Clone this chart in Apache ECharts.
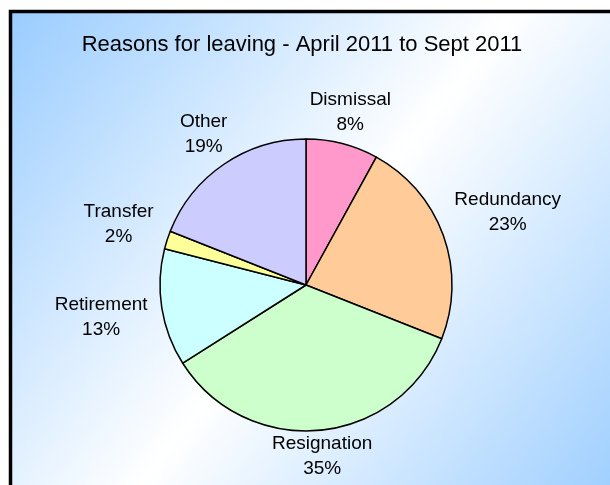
<!DOCTYPE html>
<html>
<head>
<meta charset="utf-8">
<script src="https://cdn.jsdelivr.net/npm/echarts@6/dist/echarts.min.js"></script>
<style>
    html, body { margin: 0; padding: 0; background: #fff; }
    #chart { width: 610px; height: 485px; }
</style>
</head>
<body>
<div id="chart"></div>
<script>
// data
const reasons = ['Dismissal', 'Redundancy', 'Resignation', 'Retirement', 'Transfer', 'Other'];
const shares = [8, 23, 35, 13, 2, 19];
const sliceColors = ['#FF99CC', '#FFCC99', '#CCFFCC', '#CCFFFF', '#FFFF99', '#CCCCFF'];

const chart = echarts.init(document.getElementById('chart'));

// push each label outward along its own label line until the box clears the pie
function placeLabel(params) {
    const pts = params.labelLinePoints;
    if (!pts) return {};
    const dx = pts[1][0] - pts[0][0];
    const dy = pts[1][1] - pts[0][1];
    const len = Math.sqrt(dx * dx + dy * dy) || 1;
    const ux = dx / len, uy = dy / len;
    const w = params.labelRect.width, h = params.labelRect.height;
    const off = 3 + Math.abs(ux) * (w / 2 + 10) + Math.abs(uy) * (h / 2 - 8);
    return {
        x: pts[0][0] + ux * off,
        y: pts[0][1] + uy * off,
        align: 'center',
        verticalAlign: 'middle'
    };
}

const option = {
    animation: false,
    textStyle: { fontFamily: 'Liberation Sans, Arial, sans-serif' },
    graphic: [{
        type: 'rect',
        z: -10,
        shape: { x: 10.5, y: 11.5, width: 620, height: 490 },
        style: {
            fill: new echarts.graphic.LinearGradient(0, 0, 1, 1, [
                { offset: 0, color: '#99CCFF' },
                { offset: 0.5, color: '#FFFFFF' },
                { offset: 1, color: '#99CCFF' }
            ]),
            stroke: '#000',
            lineWidth: 3.5
        }
    }],
    title: {
        text: 'Reasons for leaving - April 2011 to Sept 2011',
        left: 297,
        top: 29,
        textAlign: 'center',
        textStyle: {
            color: '#000',
            fontSize: 22,
            fontWeight: 'normal',
            fontFamily: 'Liberation Sans, Arial, sans-serif'
        }
    },
    series: [{
        type: 'pie',
        center: [306, 285],
        radius: 146,
        startAngle: 90,
        clockwise: true,
        silent: true,
        itemStyle: {
            borderColor: '#000',
            borderWidth: 1.5
        },
        label: {
            show: true,
            position: 'outside',
            formatter: '{b}\n{c}%',
            color: '#000',
            fontSize: 19,
            lineHeight: 25,
            fontFamily: 'Liberation Sans, Arial, sans-serif'
        },
        labelLine: {
            show: true,
            length: 4,
            length2: 0,
            lineStyle: { opacity: 0, width: 0 }
        },
        labelLayout: placeLabel,
        data: reasons.map((name, i) => ({
            name: name,
            value: shares[i],
            itemStyle: { color: sliceColors[i] }
        }))
    }]
};

chart.setOption(option);
</script>
</body>
</html>
